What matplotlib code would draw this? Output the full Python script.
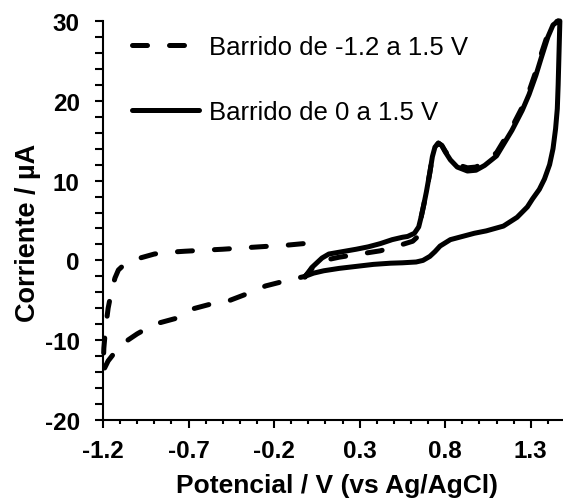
import matplotlib
matplotlib.use("Agg")
import matplotlib.pyplot as plt
from matplotlib.ticker import MultipleLocator, FixedLocator

plt.rcParams['font.family'] = ['Liberation Sans', 'DejaVu Sans']

# Sweep 0 -> 1.5 V (solid)
solid_x = [-0.02, 0.00, 0.02, 0.05, 0.08, 0.12, 0.20, 0.28, 0.35, 0.42, 0.49, 0.55, 0.58, 0.62,
           0.645, 0.66, 0.675, 0.69, 0.71, 0.725, 0.74, 0.76, 0.78, 0.80, 0.83, 0.87, 0.93, 0.98,
           1.03, 1.10, 1.19, 1.25, 1.29, 1.33, 1.36, 1.40, 1.43, 1.46, 1.47,
           1.465, 1.46, 1.455, 1.445, 1.43, 1.41, 1.38, 1.35, 1.31, 1.28, 1.22, 1.14, 1.04, 0.97,
           0.90, 0.83, 0.77, 0.74, 0.71, 0.67, 0.63, 0.55, 0.48, 0.38, 0.28, 0.18, 0.09, 0.03, -0.02]
solid_y = [-2.1, -1.5, -0.9, -0.3, 0.3, 0.8, 1.1, 1.4, 1.7, 2.1, 2.6, 2.9, 3.0, 3.4,
           4.2, 5.5, 7.0, 8.6, 11.0, 13.0, 14.2, 14.7, 14.4, 13.6, 12.6, 11.7, 11.2, 11.3,
           11.9, 13.1, 16.3, 18.8, 20.8, 23.2, 25.3, 28.0, 29.5, 30.0, 30.0,
           26.0, 22.0, 19.0, 16.5, 14.0, 12.0, 10.2, 8.9, 7.7, 6.7, 5.4, 4.3, 3.7, 3.4,
           3.0, 2.6, 1.8, 1.1, 0.5, 0.0, -0.2, -0.3, -0.35, -0.5, -0.75, -1.0, -1.3, -1.6, -2.0]

# Sweep -1.2 -> 1.5 V (dashed)
dash_x = [-0.03, -0.13, -0.25, -0.36, -0.50, -0.59, -0.72, -0.83, -0.90, -0.95, -1.00, -1.04,
          -1.08, -1.11, -1.13, -1.15, -1.17, -1.185, -1.195, -1.20,
          -1.17, -1.13, -1.09, -1.00, -0.90, -0.78, -0.68, -0.575, -0.47, -0.36, -0.25, -0.14,
          -0.02, 0.01, 0.04, 0.07, 0.18, 0.30, 0.42, 0.52, 0.61, 0.64,
          0.66, 0.675, 0.69, 0.71, 0.725, 0.74, 0.76, 0.78, 0.80, 0.83, 0.87, 0.93, 0.98,
          1.03, 1.10, 1.19, 1.25, 1.29, 1.33, 1.36, 1.40, 1.43, 1.46]
dash_y = [2.1, 1.9, 1.75, 1.6, 1.4, 1.3, 1.15, 1.0, 0.8, 0.5, 0.2, -0.1,
          -0.6, -1.2, -2.2, -3.8, -6.0, -8.5, -11.0, -13.9,
          -12.6, -11.5, -10.5, -9.2, -8.0, -7.3, -6.1, -5.5, -5.1, -4.2, -3.2, -2.6,
          -2.0, -1.3, -0.6, -0.1, 0.4, 0.8, 1.2, 1.8, 2.4, 3.0,
          5.5, 7.0, 8.6, 11.0, 13.0, 14.2, 14.7, 14.4, 13.7, 12.8, 12.0, 11.6, 11.7,
          12.3, 13.5, 16.7, 19.2, 21.2, 23.7, 25.8, 28.4, 29.8, 30.0]

labels = ['Barrido de -1.2 a 1.5 V', 'Barrido de 0 a 1.5 V']
xticks = [-1.2, -0.7, -0.2, 0.3, 0.8, 1.3]
yticks = [-20, -10, 0, 10, 20, 30]

fig = plt.figure(figsize=(5.63, 5.02), dpi=100)
ax = fig.add_axes([103/563, 1-421/502, 462/563, 399/502])

lw = 3.6
ld, = ax.plot(dash_x, dash_y, color='black', lw=lw, dash_capstyle='round',
              dash_joinstyle='round', clip_on=False, label=labels[0])
ld.set_dashes((3.0, 4.4))
ls, = ax.plot(solid_x, solid_y, color='black', lw=lw, solid_joinstyle='round',
              solid_capstyle='round', clip_on=False, label=labels[1])

ax.set_xlim(-1.2, 1.5)
ax.set_ylim(-20, 30)
ax.xaxis.set_major_locator(FixedLocator(xticks))
ax.xaxis.set_minor_locator(MultipleLocator(0.1))
ax.yaxis.set_major_locator(FixedLocator(yticks))
ax.yaxis.set_minor_locator(MultipleLocator(2))

for s in ['top', 'right']:
    ax.spines[s].set_visible(False)
for s in ['left', 'bottom']:
    ax.spines[s].set_linewidth(1.5)

tfs = 17.5
ax.tick_params(axis='x', which='major', direction='out', length=5.8, width=1.5, pad=8,
               labelsize=tfs)
ax.tick_params(axis='x', which='minor', direction='out', length=3, width=1.5)
ax.tick_params(axis='y', which='major', direction='out', length=5.8, width=1.5, pad=11,
               labelsize=tfs)
ax.tick_params(axis='y', which='minor', direction='out', length=5.8, width=1.5)
ax.set_xticklabels(['%.1f' % v for v in xticks], fontweight='bold')
ax.set_yticklabels(['%d' % v for v in yticks], fontweight='bold')

ax.set_xlabel('Potencial / V (vs Ag/AgCl)', fontsize=19, fontweight='bold')
ax.set_ylabel('Corriente / µA', fontsize=19.5, fontweight='bold')
ax.xaxis.set_label_coords(0.506, -0.163)
ax.yaxis.set_label_coords(-0.162, 0.471)
ax.xaxis.label.set_va('center')
ax.yaxis.label.set_va('center')

ax.legend(handles=[ld, ls], loc='upper left', bbox_to_anchor=(0.04, 0.99),
          frameon=False, fontsize=18.5, handlelength=2.6, handletextpad=0.4,
          labelspacing=1.58, borderaxespad=0, borderpad=0.4)

fig.savefig('out.png', dpi=100)
